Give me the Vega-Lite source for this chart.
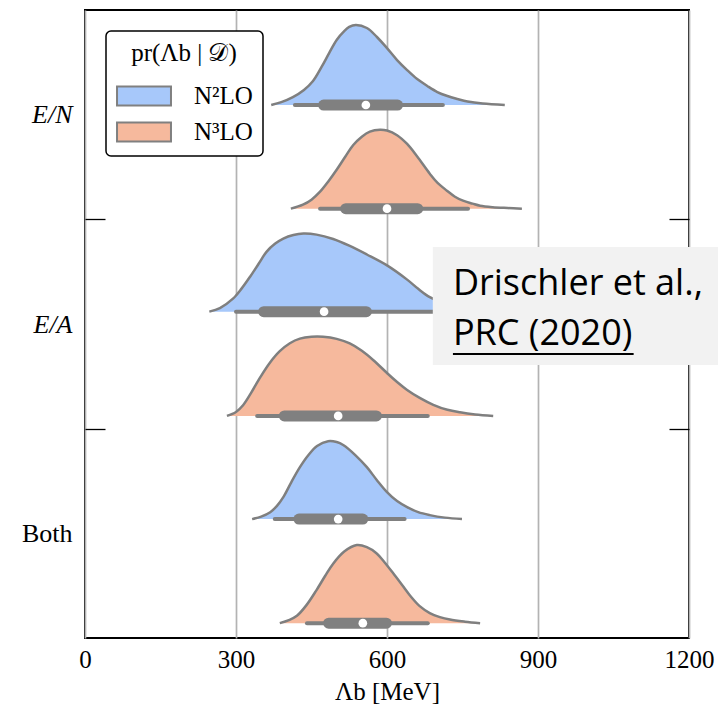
{
  "$schema": "https://vega.github.io/schema/vega-lite/v6.json",
  "width": 604,
  "height": 628,
  "autosize": {"type": "none"},
  "padding": {"left": 85, "top": 10, "right": 29, "bottom": 70},
  "background": "white",
  "config": {
    "view": {"stroke": "black", "strokeWidth": 2},
    "axis": {"labelFont": "Liberation Serif", "titleFont": "Liberation Serif", "labelColor": "black", "titleColor": "black"}
  },
  "datasets": {
    "dens": [
      {"group":"E/N","model":"N²LO","lam":370,"top":2.546,"base":2.546},
      {"group":"E/N","model":"N²LO","lam":390,"top":2.560,"base":2.546},
      {"group":"E/N","model":"N²LO","lam":413,"top":2.584,"base":2.546},
      {"group":"E/N","model":"N²LO","lam":435,"top":2.618,"base":2.546},
      {"group":"E/N","model":"N²LO","lam":453,"top":2.661,"base":2.546},
      {"group":"E/N","model":"N²LO","lam":470,"top":2.728,"base":2.546},
      {"group":"E/N","model":"N²LO","lam":485,"top":2.794,"base":2.546},
      {"group":"E/N","model":"N²LO","lam":500,"top":2.857,"base":2.546},
      {"group":"E/N","model":"N²LO","lam":515,"top":2.899,"base":2.546},
      {"group":"E/N","model":"N²LO","lam":525,"top":2.919,"base":2.546},
      {"group":"E/N","model":"N²LO","lam":538,"top":2.928,"base":2.546},
      {"group":"E/N","model":"N²LO","lam":560,"top":2.914,"base":2.546},
      {"group":"E/N","model":"N²LO","lam":580,"top":2.871,"base":2.546},
      {"group":"E/N","model":"N²LO","lam":600,"top":2.818,"base":2.546},
      {"group":"E/N","model":"N²LO","lam":620,"top":2.761,"base":2.546},
      {"group":"E/N","model":"N²LO","lam":640,"top":2.713,"base":2.546},
      {"group":"E/N","model":"N²LO","lam":660,"top":2.670,"base":2.546},
      {"group":"E/N","model":"N²LO","lam":680,"top":2.637,"base":2.546},
      {"group":"E/N","model":"N²LO","lam":700,"top":2.608,"base":2.546},
      {"group":"E/N","model":"N²LO","lam":720,"top":2.589,"base":2.546},
      {"group":"E/N","model":"N²LO","lam":740,"top":2.575,"base":2.546},
      {"group":"E/N","model":"N²LO","lam":760,"top":2.563,"base":2.546},
      {"group":"E/N","model":"N²LO","lam":790,"top":2.553,"base":2.546},
      {"group":"E/N","model":"N²LO","lam":834,"top":2.546,"base":2.546},

      {"group":"E/N","model":"N³LO","lam":409,"top":2.051,"base":2.051},
      {"group":"E/N","model":"N³LO","lam":433,"top":2.070,"base":2.051},
      {"group":"E/N","model":"N³LO","lam":450,"top":2.094,"base":2.051},
      {"group":"E/N","model":"N³LO","lam":467,"top":2.132,"base":2.051},
      {"group":"E/N","model":"N³LO","lam":483,"top":2.180,"base":2.051},
      {"group":"E/N","model":"N³LO","lam":500,"top":2.237,"base":2.051},
      {"group":"E/N","model":"N³LO","lam":517,"top":2.299,"base":2.051},
      {"group":"E/N","model":"N³LO","lam":533,"top":2.355,"base":2.051},
      {"group":"E/N","model":"N³LO","lam":550,"top":2.395,"base":2.051},
      {"group":"E/N","model":"N³LO","lam":566,"top":2.419,"base":2.051},
      {"group":"E/N","model":"N³LO","lam":586,"top":2.428,"base":2.051},
      {"group":"E/N","model":"N³LO","lam":600,"top":2.424,"base":2.051},
      {"group":"E/N","model":"N³LO","lam":620,"top":2.402,"base":2.051},
      {"group":"E/N","model":"N³LO","lam":640,"top":2.360,"base":2.051},
      {"group":"E/N","model":"N³LO","lam":660,"top":2.300,"base":2.051},
      {"group":"E/N","model":"N³LO","lam":685,"top":2.218,"base":2.051},
      {"group":"E/N","model":"N³LO","lam":700,"top":2.175,"base":2.051},
      {"group":"E/N","model":"N³LO","lam":719,"top":2.137,"base":2.051},
      {"group":"E/N","model":"N³LO","lam":735,"top":2.108,"base":2.051},
      {"group":"E/N","model":"N³LO","lam":751,"top":2.089,"base":2.051},
      {"group":"E/N","model":"N³LO","lam":770,"top":2.075,"base":2.051},
      {"group":"E/N","model":"N³LO","lam":785,"top":2.065,"base":2.051},
      {"group":"E/N","model":"N³LO","lam":810,"top":2.058,"base":2.051},
      {"group":"E/N","model":"N³LO","lam":840,"top":2.054,"base":2.051},
      {"group":"E/N","model":"N³LO","lam":868,"top":2.051,"base":2.051},

      {"group":"E/A","model":"N²LO","lam":247,"top":1.559,"base":1.559},
      {"group":"E/A","model":"N²LO","lam":268,"top":1.576,"base":1.559},
      {"group":"E/A","model":"N²LO","lam":294,"top":1.621,"base":1.559},
      {"group":"E/A","model":"N²LO","lam":311,"top":1.669,"base":1.559},
      {"group":"E/A","model":"N²LO","lam":328,"top":1.726,"base":1.559},
      {"group":"E/A","model":"N²LO","lam":345,"top":1.788,"base":1.559},
      {"group":"E/A","model":"N²LO","lam":361,"top":1.846,"base":1.559},
      {"group":"E/A","model":"N²LO","lam":378,"top":1.884,"base":1.559},
      {"group":"E/A","model":"N²LO","lam":394,"top":1.908,"base":1.559},
      {"group":"E/A","model":"N²LO","lam":414,"top":1.925,"base":1.559},
      {"group":"E/A","model":"N²LO","lam":434,"top":1.932,"base":1.559},
      {"group":"E/A","model":"N²LO","lam":460,"top":1.927,"base":1.559},
      {"group":"E/A","model":"N²LO","lam":493,"top":1.906,"base":1.559},
      {"group":"E/A","model":"N²LO","lam":525,"top":1.874,"base":1.559},
      {"group":"E/A","model":"N²LO","lam":560,"top":1.832,"base":1.559},
      {"group":"E/A","model":"N²LO","lam":600,"top":1.780,"base":1.559},
      {"group":"E/A","model":"N²LO","lam":640,"top":1.712,"base":1.559},
      {"group":"E/A","model":"N²LO","lam":662,"top":1.668,"base":1.559},
      {"group":"E/A","model":"N²LO","lam":685,"top":1.628,"base":1.559},
      {"group":"E/A","model":"N²LO","lam":710,"top":1.602,"base":1.559},
      {"group":"E/A","model":"N²LO","lam":740,"top":1.583,"base":1.559},
      {"group":"E/A","model":"N²LO","lam":775,"top":1.571,"base":1.559},
      {"group":"E/A","model":"N²LO","lam":810,"top":1.564,"base":1.559},
      {"group":"E/A","model":"N²LO","lam":850,"top":1.559,"base":1.559},

      {"group":"E/A","model":"N³LO","lam":282,"top":1.061,"base":1.061},
      {"group":"E/A","model":"N³LO","lam":300,"top":1.080,"base":1.061},
      {"group":"E/A","model":"N³LO","lam":314,"top":1.112,"base":1.061},
      {"group":"E/A","model":"N³LO","lam":330,"top":1.171,"base":1.061},
      {"group":"E/A","model":"N³LO","lam":348,"top":1.245,"base":1.061},
      {"group":"E/A","model":"N³LO","lam":367,"top":1.314,"base":1.061},
      {"group":"E/A","model":"N³LO","lam":387,"top":1.370,"base":1.061},
      {"group":"E/A","model":"N³LO","lam":407,"top":1.408,"base":1.061},
      {"group":"E/A","model":"N³LO","lam":427,"top":1.430,"base":1.061},
      {"group":"E/A","model":"N³LO","lam":450,"top":1.439,"base":1.061},
      {"group":"E/A","model":"N³LO","lam":473,"top":1.439,"base":1.061},
      {"group":"E/A","model":"N³LO","lam":500,"top":1.429,"base":1.061},
      {"group":"E/A","model":"N³LO","lam":526,"top":1.407,"base":1.061},
      {"group":"E/A","model":"N³LO","lam":550,"top":1.372,"base":1.061},
      {"group":"E/A","model":"N³LO","lam":573,"top":1.327,"base":1.061},
      {"group":"E/A","model":"N³LO","lam":600,"top":1.266,"base":1.061},
      {"group":"E/A","model":"N³LO","lam":620,"top":1.223,"base":1.061},
      {"group":"E/A","model":"N³LO","lam":640,"top":1.185,"base":1.061},
      {"group":"E/A","model":"N³LO","lam":665,"top":1.147,"base":1.061},
      {"group":"E/A","model":"N³LO","lam":692,"top":1.114,"base":1.061},
      {"group":"E/A","model":"N³LO","lam":720,"top":1.090,"base":1.061},
      {"group":"E/A","model":"N³LO","lam":745,"top":1.078,"base":1.061},
      {"group":"E/A","model":"N³LO","lam":775,"top":1.068,"base":1.061},
      {"group":"E/A","model":"N³LO","lam":811,"top":1.061,"base":1.061},

      {"group":"Both","model":"N²LO","lam":332,"top":0.568,"base":0.568},
      {"group":"Both","model":"N²LO","lam":350,"top":0.580,"base":0.568},
      {"group":"Both","model":"N²LO","lam":368,"top":0.601,"base":0.568},
      {"group":"Both","model":"N²LO","lam":381,"top":0.630,"base":0.568},
      {"group":"Both","model":"N²LO","lam":394,"top":0.673,"base":0.568},
      {"group":"Both","model":"N²LO","lam":410,"top":0.745,"base":0.568},
      {"group":"Both","model":"N²LO","lam":427,"top":0.816,"base":0.568},
      {"group":"Both","model":"N²LO","lam":444,"top":0.874,"base":0.568},
      {"group":"Both","model":"N²LO","lam":461,"top":0.917,"base":0.568},
      {"group":"Both","model":"N²LO","lam":483,"top":0.940,"base":0.568},
      {"group":"Both","model":"N²LO","lam":500,"top":0.936,"base":0.568},
      {"group":"Both","model":"N²LO","lam":513,"top":0.922,"base":0.568},
      {"group":"Both","model":"N²LO","lam":537,"top":0.874,"base":0.568},
      {"group":"Both","model":"N²LO","lam":560,"top":0.816,"base":0.568},
      {"group":"Both","model":"N²LO","lam":580,"top":0.754,"base":0.568},
      {"group":"Both","model":"N²LO","lam":600,"top":0.697,"base":0.568},
      {"group":"Both","model":"N²LO","lam":620,"top":0.654,"base":0.568},
      {"group":"Both","model":"N²LO","lam":640,"top":0.625,"base":0.568},
      {"group":"Both","model":"N²LO","lam":662,"top":0.601,"base":0.568},
      {"group":"Both","model":"N²LO","lam":685,"top":0.587,"base":0.568},
      {"group":"Both","model":"N²LO","lam":715,"top":0.575,"base":0.568},
      {"group":"Both","model":"N²LO","lam":749,"top":0.568,"base":0.568},

      {"group":"Both","model":"N³LO","lam":387,"top":0.071,"base":0.071},
      {"group":"Both","model":"N³LO","lam":405,"top":0.085,"base":0.071},
      {"group":"Both","model":"N³LO","lam":421,"top":0.106,"base":0.071},
      {"group":"Both","model":"N³LO","lam":440,"top":0.157,"base":0.071},
      {"group":"Both","model":"N³LO","lam":460,"top":0.229,"base":0.071},
      {"group":"Both","model":"N³LO","lam":477,"top":0.296,"base":0.071},
      {"group":"Both","model":"N³LO","lam":493,"top":0.355,"base":0.071},
      {"group":"Both","model":"N³LO","lam":515,"top":0.413,"base":0.071},
      {"group":"Both","model":"N³LO","lam":540,"top":0.444,"base":0.071},
      {"group":"Both","model":"N³LO","lam":560,"top":0.434,"base":0.071},
      {"group":"Both","model":"N³LO","lam":579,"top":0.405,"base":0.071},
      {"group":"Both","model":"N³LO","lam":595,"top":0.362,"base":0.071},
      {"group":"Both","model":"N³LO","lam":612,"top":0.310,"base":0.071},
      {"group":"Both","model":"N³LO","lam":630,"top":0.253,"base":0.071},
      {"group":"Both","model":"N³LO","lam":646,"top":0.202,"base":0.071},
      {"group":"Both","model":"N³LO","lam":665,"top":0.152,"base":0.071},
      {"group":"Both","model":"N³LO","lam":685,"top":0.119,"base":0.071},
      {"group":"Both","model":"N³LO","lam":705,"top":0.100,"base":0.071},
      {"group":"Both","model":"N³LO","lam":725,"top":0.088,"base":0.071},
      {"group":"Both","model":"N³LO","lam":755,"top":0.078,"base":0.071},
      {"group":"Both","model":"N³LO","lam":785,"top":0.071,"base":0.071}
    ],
    "box": [
      {"group":"E/N","model":"N²LO","base":2.546,"lo95":417,"hi95":711,"lo68":474,"hi68":621,"med":558},
      {"group":"E/N","model":"N³LO","base":2.051,"lo95":467,"hi95":761,"lo68":518,"hi68":661,"med":600},
      {"group":"E/A","model":"N²LO","base":1.559,"lo95":300,"hi95":696,"lo68":355,"hi68":559,"med":475},
      {"group":"E/A","model":"N³LO","base":1.061,"lo95":342,"hi95":681,"lo68":396,"hi68":579,"med":503},
      {"group":"Both","model":"N²LO","base":0.568,"lo95":377,"hi95":635,"lo68":425,"hi68":552,"med":503},
      {"group":"Both","model":"N³LO","base":0.071,"lo95":441,"hi95":681,"lo68":484,"hi68":599,"med":552}
    ],
    "noteBox": [{"x1": 691, "x2": 1262, "y1": 1.304, "y2": 1.868}],
    "noteText": [
      {"text": "Drischler et al.,", "x": 731, "y": 1.6385},
      {"text": "PRC (2020)", "x": 731, "y": 1.400}
    ],
    "noteLine": [{"x1": 731, "x2": 1090, "y": 1.3567}]
  },
  "resolve": {"axis": {"y": "independent"}},
  "layer": [
    {
      "data": {"name": "dens"},
      "mark": {"type": "area", "interpolate": "catmull-rom", "opacity": 1, "fillOpacity": 1},
      "encoding": {
        "x": {"field": "lam", "type": "quantitative", "scale": {"domain": [0, 1200], "nice": false, "zero": false},
          "axis": {"values": [0, 300, 600, 900, 1200], "format": "d", "grid": true, "gridColor": "#b3b3b3", "gridWidth": 1.7, "ticks": false, "domain": false,
            "labelFontSize": 25, "labelPadding": 9, "title": "Λb [MeV]", "titleFontSize": 25, "titleFontWeight": "normal", "titlePadding": 7, "labelFlush": false}},
        "y": {"field": "top", "type": "quantitative", "scale": {"domain": [0, 3], "nice": false, "zero": false},
          "axis": {"orient": "left", "values": [0.5, 1, 1.5, 2, 2.5],
            "labelExpr": "datum.value == 2.5 ? 'E/N' : datum.value == 1.5 ? 'E/A' : datum.value == 0.5 ? 'Both' : ''",
            "labelFontStyle": {"condition": {"test": "datum.value == 0.5", "value": "normal"}, "value": "italic"},
            "tickOpacity": {"condition": {"test": "datum.value % 1 == 0", "value": 1}, "value": 0},
            "tickSize": -20, "tickColor": "black", "tickWidth": 1.3, "domain": false, "grid": false, "title": null,
            "labelFontSize": 26, "labelPadding": 33, "labelBaseline": "middle"}},
        "y2": {"field": "base"},
        "color": {"field": "model", "type": "nominal",
          "scale": {"domain": ["N²LO", "N³LO"], "range": ["#a7c8fa", "#f6b99d"]},
          "legend": {"title": "pr(Λb | 𝒟)", "orient": "top-left", "offset": 21,
            "fillColor": "white", "strokeColor": "black", "cornerRadius": 5, "padding": 10,
            "titleFont": "Liberation Serif", "titleFontSize": 25, "titleFontWeight": "normal", "titleColor": "black", "titleAnchor": "middle", "titlePadding": 10,
            "labelFont": "Liberation Serif", "labelFontSize": 25, "labelColor": "black", "labelOffset": 30,
            "symbolType": "M-1.42,-0.5H1.42V0.5H-1.42Z", "symbolSize": 1444, "symbolStrokeColor": "#808080", "symbolStrokeWidth": 2, "symbolOpacity": 1, "symbolOffset": 8, "rowPadding": 2,
            "encode": {"legend": {"update": {"strokeWidth": {"value": 1.5}}}}}},
        "detail": {"field": "group"}
      }
    },
    {
      "data": {"name": "dens"},
      "mark": {"type": "line", "interpolate": "catmull-rom", "color": "#7f7f7f", "strokeWidth": 2.5},
      "encoding": {
        "x": {"field": "lam", "type": "quantitative", "scale": {"domain": [0, 1200], "nice": false, "zero": false}},
        "y": {"field": "top", "type": "quantitative", "scale": {"domain": [0, 3], "nice": false, "zero": false},
          "axis": {"orient": "right", "values": [1, 2], "labels": false, "tickSize": -20, "tickColor": "black", "tickWidth": 1.3, "domain": false, "grid": false, "title": null}},
        "detail": [{"field": "group"}, {"field": "model"}]
      }
    },
    {
      "data": {"name": "box"},
      "mark": {"type": "rule", "color": "#808080", "strokeWidth": 4, "strokeCap": "round"},
      "encoding": {
        "x": {"field": "lo95", "type": "quantitative", "scale": {"domain": [0, 1200], "nice": false, "zero": false}},
        "x2": {"field": "hi95"},
        "y": {"field": "base", "type": "quantitative", "scale": {"domain": [0, 3], "nice": false, "zero": false}, "axis": null}
      }
    },
    {
      "data": {"name": "box"},
      "mark": {"type": "rule", "color": "#808080", "strokeWidth": 11, "strokeCap": "round"},
      "encoding": {
        "x": {"field": "lo68", "type": "quantitative", "scale": {"domain": [0, 1200], "nice": false, "zero": false}},
        "x2": {"field": "hi68"},
        "y": {"field": "base", "type": "quantitative", "scale": {"domain": [0, 3], "nice": false, "zero": false}, "axis": null}
      }
    },
    {
      "data": {"name": "box"},
      "mark": {"type": "point", "filled": true, "fill": "white", "fillOpacity": 1, "opacity": 1, "size": 75, "strokeWidth": 0},
      "encoding": {
        "x": {"field": "med", "type": "quantitative", "scale": {"domain": [0, 1200], "nice": false, "zero": false}},
        "y": {"field": "base", "type": "quantitative", "scale": {"domain": [0, 3], "nice": false, "zero": false}, "axis": null}
      }
    },
    {
      "data": {"name": "noteBox"},
      "mark": {"type": "rect", "fill": "#f2f2f2", "clip": false},
      "encoding": {
        "x": {"field": "x1", "type": "quantitative", "scale": {"domain": [0, 1200], "nice": false, "zero": false}},
        "x2": {"field": "x2"},
        "y": {"field": "y1", "type": "quantitative", "scale": {"domain": [0, 3], "nice": false, "zero": false}, "axis": null},
        "y2": {"field": "y2"}
      }
    },
    {
      "data": {"name": "noteText"},
      "mark": {"type": "text", "font": "Open Sans", "fontSize": 36, "align": "left", "baseline": "alphabetic", "color": "black"},
      "encoding": {
        "x": {"field": "x", "type": "quantitative", "scale": {"domain": [0, 1200], "nice": false, "zero": false}},
        "y": {"field": "y", "type": "quantitative", "scale": {"domain": [0, 3], "nice": false, "zero": false}, "axis": null},
        "text": {"field": "text"}
      }
    },
    {
      "data": {"name": "noteLine"},
      "mark": {"type": "rule", "color": "black", "strokeWidth": 2},
      "encoding": {
        "x": {"field": "x1", "type": "quantitative", "scale": {"domain": [0, 1200], "nice": false, "zero": false}},
        "x2": {"field": "x2"},
        "y": {"field": "y", "type": "quantitative", "scale": {"domain": [0, 3], "nice": false, "zero": false}, "axis": null}
      }
    }
  ]
}
